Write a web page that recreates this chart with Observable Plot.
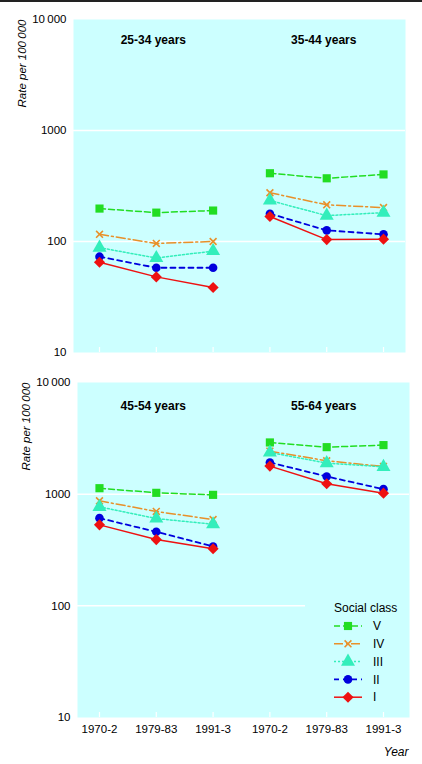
<!DOCTYPE html>
<html>
<head>
<meta charset="utf-8">
<script src="https://cdn.jsdelivr.net/npm/d3@7"></script>
<script src="https://cdn.jsdelivr.net/npm/@observablehq/plot@0.6"></script>
<style>
  html, body { margin: 0; padding: 0; background: white; }
  #top-rule { height: 2px; background: #222; width: 422px; }
  #chart svg { display: block; }
</style>
</head>
<body>
<div id="chart"></div>
<script>
// ---- Data ----
const periods = ["1970-2", "1979-83", "1991-3"];
const ageGroups = ["25-34 years", "35-44 years", "45-54 years", "55-64 years"];
const classes = ["V", "IV", "III", "II", "I"];
const yTicks = [10, 100, 1000, 10000];
const yTickLabels = ["10", "100", "1000", "10\u2009000"];

// rate per 100 000, ordered: 25-34 (3 periods), 35-44, 45-54, 55-64
const classV   = [198, 182, 190,  412, 371, 402,  1131, 1028, 986,  2905, 2636, 2750];
const classIV  = [116,  96, 100,  275, 214, 202,   872,  700, 593,  2427, 1992, 1771];
const classIII = [ 88,  71,  82,  234, 171, 182,   770,  605, 538,  2362, 1897, 1757];
const classII  = [ 73,  58,  58,  178, 126, 116,   610,  460, 340,  1923, 1440, 1109];
const classI   = [ 65,  48, 38.5, 168, 104, 105,   531,  392, 324,  1783, 1238, 1021];

const seriesValues = {V: classV, IV: classIV, III: classIII, II: classII, I: classI};

// ---- Styles ----
const FONT = "Liberation Sans, Arial, Helvetica, sans-serif";
const BG = "#ccffff";
const styles = {
  V:   {color: "#22dd22", dash: "6,3",     symbol: "square",   r: 4.6, filled: true,  width: 1.5},
  IV:  {color: "#e8902a", dash: "9,3,2,3", symbol: "times",    r: 3.2, filled: false, width: 1.5},
  III: {color: "#33eebb", dash: "2,2",     symbol: "triangle", r: 5.2, filled: true,  width: 1.5},
  II:  {color: "#0000dd", dash: "5,4",     symbol: "circle",   r: 4.3, filled: true,  width: 1.8},
  I:   {color: "#ee1111", dash: null,      symbol: "diamond2", r: 5.0, filled: true,  width: 1.5}
};
const d3Symbols = {square: d3.symbolSquare, times: d3.symbolTimes, triangle: d3.symbolTriangle, circle: d3.symbolCircle, diamond2: d3.symbolDiamond2};

// ---- Table ----
const rows = [];
classes.forEach(c => {
  seriesValues[c].forEach((v, k) => {
    const g = Math.floor(k / 3), p = k % 3;
    rows.push({cls: c, group: ageGroups[g], panel: g < 2 ? 0 : 1, xi: (g % 2) * 3 + p, period: periods[p], value: v});
  });
});
const xIdx = [0, 1, 2, 3, 4, 5];

function dataMarks(panel) {
  const marks = [];
  classes.forEach(c => {
    const s = styles[c];
    const d = rows.filter(r => r.panel === panel && r.cls === c);
    marks.push(Plot.line(d, {x: "xi", y: "value", z: "group", stroke: s.color, strokeWidth: s.width,
      strokeDasharray: s.dash || undefined}));
    marks.push(Plot.dot(d, {x: "xi", y: "value", symbol: () => s.symbol, r: s.r,
      fill: s.filled ? s.color : "none", stroke: s.filled ? "none" : s.color, strokeWidth: s.filled ? 0 : 1.6}));
  });
  return marks;
}

function legendMark(index, scales, values, dims) {
  const R = dims.width - dims.marginRight;
  const B = dims.height - dims.marginBottom;
  const g = d3.create("svg:g").attr("font-family", FONT).attr("font-size", 12).attr("text-anchor", "start");
  g.append("rect").attr("x", R - 104).attr("y", B - 122).attr("width", 104).attr("height", 116).attr("fill", BG);
  g.append("text").attr("x", R - 75).attr("y", B - 109).attr("dy", "0.35em").attr("fill", "black").text("Social class");
  classes.forEach((c, i) => {
    const s = styles[c];
    const y = B - 91 + i * 17.8;
    g.append("line").attr("x1", R - 75).attr("x2", R - 47).attr("y1", y).attr("y2", y)
      .attr("stroke", s.color).attr("stroke-width", s.width).attr("stroke-dasharray", s.dash);
    g.append("path").attr("transform", `translate(${R - 61},${y})`)
      .attr("d", d3.symbol(d3Symbols[s.symbol], s.r * s.r * Math.PI)())
      .attr("fill", s.filled ? s.color : "none").attr("stroke", s.filled ? "none" : s.color)
      .attr("stroke-width", s.filled ? 0 : 1.6);
    g.append("text").attr("x", R - 36).attr("y", y).attr("dy", "0.35em").attr("fill", "black").text(c);
  });
  return g.node();
}

const common = {
  width: 422,
  style: {fontFamily: FONT, fontSize: "11.5px", background: "white", color: "black", overflow: "visible"},
  y: {type: "log", domain: [10, 10000], axis: null}
};

function yAxis() {
  return Plot.axisY({ticks: yTicks, tickFormat: d => yTickLabels[yTicks.indexOf(d)], tickSize: 0, tickPadding: 7, label: null, fontSize: 11.5});
}
function yLabel() {
  return Plot.text(["Rate per 100\u2009000"], {text: d => d, frameAnchor: "top-left", rotate: -90, textAnchor: "end",
    dx: -56, fontStyle: "italic", fontSize: 11.5});
}

// Top panel
const topPlot = Plot.plot({
  ...common,
  height: 368,
  marginTop: 17, marginBottom: 18, marginLeft: 73, marginRight: 17,
  x: {type: "linear", domain: [-0.458, 5.387], axis: null},
  marks: [
    Plot.frame({fill: BG, stroke: "none"}),
    Plot.ruleY([100, 1000], {stroke: "white", strokeWidth: 1.5}),
    Plot.ruleX(xIdx, {x: d => d, stroke: "white", strokeWidth: 1.2, insetTop: 328}),
    yAxis(),
    yLabel(),
    Plot.text(ageGroups.slice(0, 2), {x: (d, i) => i * 3 + 1, text: d => d, frameAnchor: "top", dy: 16, dx: -3,
      fontWeight: "bold", fontSize: 12}),
    ...dataMarks(0)
  ]
});

// Bottom panel
const bottomPlot = Plot.plot({
  ...common,
  height: 394,
  marginTop: 12, marginBottom: 47, marginLeft: 77, marginRight: 13,
  x: {type: "linear", domain: [-0.387, 5.458], axis: null},
  marks: [
    Plot.frame({fill: BG, stroke: "none"}),
    Plot.ruleY([100, 1000], {stroke: "white", strokeWidth: 1.5}),
    Plot.ruleX(xIdx, {x: d => d, stroke: "white", strokeWidth: 1.2, insetTop: 330}),
    legendMark,
    yAxis(),
    yLabel(),
    Plot.axisX({ticks: xIdx, tickFormat: i => periods[i % 3], tickSize: 0, tickPadding: 7, label: null, fontSize: 11.5}),
    Plot.text(["Year"], {text: d => d, frameAnchor: "bottom-right", dy: 38, dx: -1, textAnchor: "end", fontStyle: "italic", fontSize: 12}),
    Plot.text(ageGroups.slice(2, 4), {x: (d, i) => i * 3 + 1, text: d => d, frameAnchor: "top", dy: 19, dx: -3,
      fontWeight: "bold", fontSize: 12}),
    ...dataMarks(1)
  ]
});

const chart = document.getElementById("chart");
const rule = document.createElement("div");
rule.id = "top-rule";
chart.appendChild(rule);
chart.appendChild(topPlot);
chart.appendChild(bottomPlot);
</script>
</body>
</html>
